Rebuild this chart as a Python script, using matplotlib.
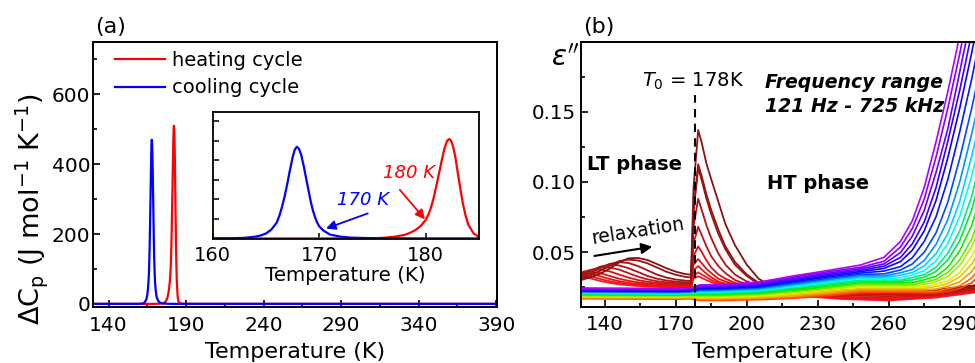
import matplotlib
matplotlib.use('Agg')
import matplotlib.pyplot as plt
from matplotlib.colors import hsv_to_rgb

plt.rcParams['font.family'] = ['DejaVu Sans']
plt.rcParams['mathtext.fontset'] = 'dejavusans'

# ---------------- panel (a): DSC peaks ----------------
T_heat = [130, 170, 175, 176, 177, 178, 178.5, 179, 179.5, 180, 180.25, 180.5, 180.75, 181,
          181.25, 181.5, 181.75, 182, 182.2, 182.4, 182.6, 182.8, 183, 183.25, 183.5, 183.75,
          184, 184.5, 185, 186, 188, 390]
cp_heat = [0, 0, 1, 3, 8, 18, 28, 42, 62, 95, 122, 160, 210, 270,
           335, 400, 460, 500, 510, 500, 465, 410, 340, 255, 175, 115,
           70, 25, 8, 2, 0, 0]
T_cool = [130, 160, 162, 163, 164, 164.5, 165, 165.5, 166, 166.25, 166.5, 166.75, 167,
          167.25, 167.5, 167.7, 167.9, 168.1, 168.3, 168.55, 168.8, 169.0, 169.2, 169.4,
          169.6, 169.8, 170, 170.4, 171, 172, 173, 175, 180, 390]
cp_cool = [0, 0, 1, 3, 9, 15, 25, 45, 80, 115, 160, 215, 280,
           350, 415, 455, 470, 460, 430, 370, 300, 245, 190, 145,
           110, 82, 62, 40, 20, 9, 4, 1, 0, 0]
label_heat = 'heating cycle'
label_cool = 'cooling cycle'
T_mark_cool = 170   # "170 K"
T_mark_heat = 180   # "180 K"

# ---------------- panel (b): dielectric loss ----------------
T0 = 178
T_peak = [130, 134, 138, 142, 146, 150, 154, 158, 162, 166, 170, 174, 176.5, 177.5,
          179.5, 181, 183, 185, 188, 191, 195, 200, 205, 210, 220, 240, 260, 280, 300, 310]
peak_01 = [.0300, .0320, .0345, .0380, .0425, .0455, .0458, .0443, .0415, .0385, .0360, .0343, .0338, .0950,
           .1370, .1280, .1130, .1020, .0860, .0700, .0550, .0410, .0310, .0260, .0240, .0230, .0225, .0230, .0270, .0300]
peak_02 = [.0310, .0335, .0365, .0400, .0435, .0446, .0440, .0420, .0390, .0360, .0338, .0323, .0318, .0800,
           .1126, .1040, .0910, .0800, .0660, .0540, .0430, .0340, .0280, .0250, .0235, .0225, .0220, .0225, .0265, .0295]
peak_03 = [.0325, .0350, .0385, .0415, .0428, .0422, .0400, .0370, .0340, .0318, .0304, .0296, .0293, .0780,
           .1100, .1010, .0880, .0770, .0630, .0520, .0410, .0330, .0270, .0245, .0230, .0220, .0215, .0220, .0260, .0290]
peak_04 = [.0340, .0365, .0395, .0408, .0405, .0385, .0358, .0330, .0310, .0297, .0289, .0284, .0282, .0680,
           .0880, .0800, .0690, .0600, .0490, .0410, .0340, .0290, .0260, .0240, .0225, .0210, .0205, .0210, .0250, .0280]
peak_05 = [.0345, .0372, .0388, .0390, .0375, .0350, .0325, .0305, .0292, .0284, .0278, .0275, .0273, .0560,
           .0680, .0620, .0540, .0470, .0400, .0350, .0300, .0270, .0250, .0235, .0220, .0200, .0195, .0200, .0245, .0275]
peak_06 = [.0355, .0372, .0375, .0362, .0340, .0318, .0300, .0288, .0280, .0274, .0270, .0267, .0266, .0470,
           .0540, .0500, .0440, .0390, .0340, .0310, .0280, .0260, .0245, .0230, .0210, .0190, .0185, .0195, .0240, .0270]
peak_07 = [.0357, .0360, .0350, .0330, .0310, .0295, .0284, .0276, .0270, .0266, .0263, .0261, .0260, .0410,
           .0450, .0420, .0380, .0350, .0310, .0290, .0270, .0250, .0240, .0225, .0205, .0180, .0175, .0190, .0235, .0265]
peak_08 = [.0350, .0345, .0328, .0308, .0292, .0281, .0273, .0267, .0263, .0260, .0257, .0255, .0254, .0370,
           .0400, .0375, .0345, .0320, .0290, .0275, .0260, .0245, .0235, .0220, .0200, .0175, .0165, .0185, .0230, .0260]
peak_09 = [.0342, .0328, .0308, .0292, .0280, .0271, .0265, .0260, .0257, .0254, .0252, .0250, .0249, .0330,
           .0355, .0340, .0320, .0300, .0280, .0265, .0250, .0240, .0230, .0215, .0195, .0170, .0160, .0180, .0225, .0255]
peak_10 = [.0330, .0312, .0294, .0280, .0270, .0263, .0258, .0254, .0251, .0249, .0247, .0245, .0244, .0310,
           .0327, .0315, .0300, .0285, .0270, .0260, .0245, .0235, .0225, .0210, .0190, .0165, .0155, .0175, .0220, .0250]

T_rb = [130, 170, 176, 180, 190, 205, 220, 235, 248, 258, 265, 270, 275, 280, 285, 290, 295, 300, 305, 310]
rb_01 = [.0243, .0240, .0243, .0265, .0270, .0285, .0330, .0370, .0407, .0462, .0576, .0724, .0960, .1287, .1646, .2044, .248, .298, .348, .398]
rb_02 = [.0239, .0236, .0239, .0259, .0264, .0278, .0322, .0361, .0391, .0434, .0536, .0669, .0878, .1178, .1528, .1914, .234, .282, .332, .382]
rb_03 = [.0235, .0232, .0235, .0253, .0258, .0272, .0313, .0351, .0380, .0415, .0496, .0614, .0796, .1069, .1380, .1784, .2198, .266, .316, .366]
rb_04 = [.0231, .0228, .0231, .0248, .0252, .0265, .0305, .0342, .0370, .0399, .0462, .0559, .0714, .0960, .1292, .1654, .2056, .250, .300, .350]
rb_05 = [.0227, .0224, .0227, .0242, .0246, .0259, .0296, .0332, .0360, .0383, .0432, .0514, .0651, .0868, .1174, .1526, .1916, .2346, .283, .333]
rb_06 = [.0223, .0220, .0223, .0236, .0240, .0252, .0288, .0323, .0350, .0364, .0396, .0460, .0575, .0752, .1019, .1358, .1730, .2142, .260, .310]
rb_07 = [.0219, .0216, .0219, .0230, .0234, .0246, .0279, .0313, .0340, .0344, .0372, .0415, .0498, .0637, .0857, .1167, .1521, .1912, .2343, .283]
rb_08 = [.0215, .0212, .0215, .0224, .0228, .0239, .0271, .0304, .0330, .0330, .0352, .0376, .0440, .0555, .0732, .0999, .1338, .1710, .2122, .258]
rb_09 = [.0211, .0208, .0211, .0219, .0222, .0232, .0263, .0294, .0320, .0320, .0334, .0354, .0401, .0488, .0632, .0861, .1180, .1537, .1932, .2367]
rb_10 = [.0207, .0204, .0207, .0213, .0216, .0226, .0254, .0285, .0310, .0310, .0316, .0336, .0367, .0438, .0562, .0755, .1038, .1383, .1762, .2181]
rb_11 = [.0203, .0200, .0203, .0207, .0210, .0219, .0246, .0275, .0300, .0300, .0300, .0318, .0338, .0393, .0492, .0649, .0896, .1229, .1592, .1995]
rb_12 = [.0199, .0196, .0199, .0201, .0203, .0213, .0237, .0266, .0290, .0290, .0290, .0301, .0321, .0362, .0444, .0581, .0798, .1104, .1456, .1846]
rb_13 = [.0195, .0192, .0195, .0195, .0197, .0206, .0229, .0256, .0280, .0280, .0280, .0282, .0302, .0327, .0392, .0508, .0687, .0956, .1295, .1668]
rb_14 = [.0191, .0188, .0191, .0190, .0191, .0199, .0221, .0247, .0270, .0270, .0270, .0270, .0285, .0305, .0354, .0444, .0591, .0826, .1150, .1508]
rb_15 = [.0187, .0184, .0187, .0184, .0185, .0193, .0212, .0237, .0260, .0260, .0260, .0260, .0269, .0289, .0326, .0404, .0536, .0744, .1041, .1390]
rb_16 = [.0183, .0180, .0183, .0178, .0179, .0186, .0204, .0228, .0250, .0250, .0250, .0250, .0251, .0271, .0292, .0354, .0466, .0638, .0899, .1236]
rb_17 = [.0179, .0176, .0179, .0172, .0173, .0180, .0195, .0218, .0240, .0240, .0240, .0240, .0240, .0254, .0274, .0323, .0412, .0558, .0791, .1114]
rb_18 = [.0175, .0172, .0175, .0166, .0167, .0173, .0187, .0209, .0230, .0230, .0230, .0230, .0230, .0236, .0256, .0288, .0360, .0485, .0680, .0965]
rb_19 = [.0171, .0168, .0171, .0161, .0161, .0167, .0178, .0200, .0220, .0220, .0220, .0220, .0220, .0220, .0238, .0258, .0314, .0415, .0574, .0823]
rb_20 = [.0167, .0164, .0167, .0155, .0155, .0160, .0170, .0190, .0210, .0210, .0210, .0210, .0210, .0210, .0220, .0240, .0280, .0360, .0495, .0708]

peak_series = [peak_01, peak_02, peak_03, peak_04, peak_05, peak_06, peak_07, peak_08, peak_09, peak_10]
rb_series = [rb_01, rb_02, rb_03, rb_04, rb_05, rb_06, rb_07, rb_08, rb_09, rb_10,
             rb_11, rb_12, rb_13, rb_14, rb_15, rb_16, rb_17, rb_18, rb_19, rb_20]

# styles
peak_colors = ['#8a1212', '#961313', '#a01414', '#b01212', '#c41414',
               '#d41414', '#e01515', '#ea1616', '#f21818', '#fa1a1a']
rb_hues = [0.78, 0.755, 0.73, 0.70, 0.675, 0.65, 0.62, 0.57, 0.53, 0.49,
           0.43, 0.37, 0.32, 0.26, 0.21, 0.17, 0.14, 0.10, 0.07, 0.04]

fig = plt.figure(figsize=(9.75, 3.63), dpi=100)
W, H = 975.0, 363.0

def fbox(l, t, r, b):
    return [l / W, 1 - b / H, (r - l) / W, (b - t) / H]

# ---------- panel (a) ----------
ax_a = fig.add_axes(fbox(93, 42, 497, 307))
ax_a.plot(T_heat, cp_heat, color='#ff0000', lw=1.6, label=label_heat)
ax_a.plot(T_cool, cp_cool, color='#0000ff', lw=1.6, label=label_cool)
ax_a.set_xlim(130, 390.5)
ax_a.set_ylim(-9, 750)
ax_a.set_xticks(range(140, 391, 50))
ax_a.set_xticks(range(165, 391, 50), minor=True)
ax_a.set_yticks(range(0, 601, 200))
ax_a.set_yticks(range(100, 701, 200), minor=True)
ax_a.tick_params(which='both', direction='in', top=False, right=False, width=1.2, labelsize=14.5)
ax_a.tick_params(which='major', length=5)
ax_a.tick_params(which='minor', length=3)
ax_a.tick_params(axis='x', pad=6.5)
ax_a.tick_params(axis='y', pad=2)
for s in ax_a.spines.values():
    s.set_linewidth(1.4)
leg = ax_a.legend(loc='upper left', bbox_to_anchor=(0.054, 0.965), frameon=False,
                  fontsize=14, handlelength=2.6, handletextpad=0.35, labelspacing=0.42,
                  borderaxespad=0, borderpad=0)

fig.text(295 / W, 1 - 358 / H, 'Temperature (K)', ha='center', va='baseline', fontsize=16)
fig.text(32 / W, 1 - 209 / H, r'$\Delta$C$_\mathregular{p}$ (J mol$^{\mathregular{-1}}$ K$^{\mathregular{-1}}$)',
         rotation=90, ha='center', va='center', fontsize=19.5)
fig.text(95 / W, 1 - 27 / H, '(a)', ha='left', va='center', fontsize=16)

# inset
ax_in = fig.add_axes(fbox(212.7, 111.7, 479, 239))
ax_in.plot(T_heat, cp_heat, color='#ff0000', lw=1.6)
ax_in.plot(T_cool, cp_cool, color='#0000ff', lw=1.6)
ax_in.set_xlim(160, 185)
ax_in.set_ylim(-3, 650)
ax_in.set_xticks([160, 170, 180])
ax_in.set_yticks(range(0, 601, 100))
ax_in.tick_params(which='both', direction='in', top=False, right=False, width=1.1,
                  length=4, labelsize=14, labelleft=False, pad=5)
for s in ax_in.spines.values():
    s.set_linewidth(1.3)
ax_in.text(174.1, 199, f'{T_mark_cool} K', color='#0000ff', style='italic', fontsize=13,
           ha='center', va='center')
ax_in.annotate('', xy=(T_mark_cool + 0.4, 46), xytext=(174.8, 133),
               arrowprops=dict(arrowstyle='-|>', color='#0000ff', lw=1.3, mutation_scale=14))
ax_in.text(178.4, 337, f'{T_mark_heat} K', color='#ff0000', style='italic', fontsize=13,
           ha='center', va='center')
ax_in.annotate('', xy=(T_mark_heat + 0.1, 87), xytext=(177.4, 260),
               arrowprops=dict(arrowstyle='-|>', color='#ff0000', lw=1.3, mutation_scale=14))
fig.text(345.7 / W, 1 - 281 / H, 'Temperature (K)', ha='center', va='baseline', fontsize=14.3)

# ---------- panel (b) ----------
ax_b = fig.add_axes(fbox(581, 41.7, 983.4, 306.7))
for vals, c in reversed(list(zip(peak_series, peak_colors))):
    ax_b.plot(T_peak, vals, color=c, lw=1.3)
for vals, h in reversed(list(zip(rb_series, rb_hues))):
    v = 0.92 if 0.12 < h < 0.45 else 1.0
    ax_b.plot(T_rb, vals, color=hsv_to_rgb((h, 1.0, v)), lw=1.2)
ax_b.set_xlim(130, 300)
ax_b.set_ylim(0.011, 0.2)
ax_b.axvline(T0, ymin=0, ymax=(0.162 - 0.011) / 0.189, color='black', lw=1.5,
             linestyle=(0, (4, 3)))
ax_b.set_xticks(range(140, 300, 30))
ax_b.set_xticks(range(155, 301, 30), minor=True)
ax_b.set_yticks([0.05, 0.10, 0.15])
ax_b.set_yticklabels(['0.05', '0.10', '0.15'])
ax_b.set_yticks([0.025, 0.075, 0.125, 0.175], minor=True)
ax_b.tick_params(which='both', direction='in', top=False, right=False, width=1.2, labelsize=14.3)
ax_b.tick_params(which='major', length=5)
ax_b.tick_params(which='minor', length=3)
ax_b.tick_params(axis='x', pad=6)
ax_b.tick_params(axis='y', pad=4)
for s in ax_b.spines.values():
    s.set_linewidth(1.4)

ax_b.text(0.151, 0.830, r'$T_{\mathit{0}}$' + f' = {T0}K', transform=ax_b.transAxes,
          ha='left', va='baseline', fontsize=14)
ax_b.text(0.457, 0.882, 'Frequency range\n121 Hz - 725 kHz', transform=ax_b.transAxes,
          ha='left', va='top', fontsize=13.6, fontweight='bold', style='italic', linespacing=1.35)
ax_b.text(0.015, 0.537, 'LT phase', transform=ax_b.transAxes, ha='left', va='center',
          fontsize=14, fontweight='bold')
ax_b.text(0.462, 0.465, 'HT phase', transform=ax_b.transAxes, ha='left', va='center',
          fontsize=14, fontweight='bold')
ax_b.text(0.142, 0.286, 'relaxation', transform=ax_b.transAxes, ha='center', va='center',
          fontsize=13.5, rotation=9)
ax_b.annotate('', xy=(161.3, 0.0541), xytext=(134.5, 0.0469),
              arrowprops=dict(arrowstyle='-|>', color='black', lw=1.5, mutation_scale=16))

fig.text(782.5 / W, 1 - 358 / H, 'Temperature (K)', ha='center', va='baseline', fontsize=16)
fig.text(565 / W, 1 - 57 / H, r"$\varepsilon''$", ha='center', va='center', fontsize=20)
fig.text(583 / W, 1 - 27 / H, '(b)', ha='left', va='center', fontsize=16)

fig.savefig('out.png', dpi=100)
